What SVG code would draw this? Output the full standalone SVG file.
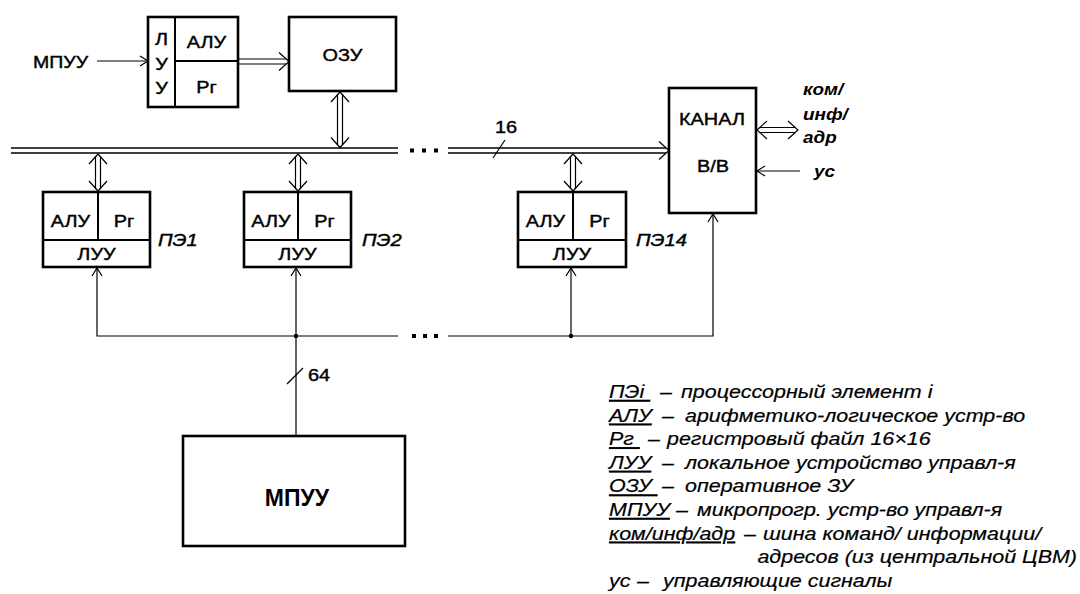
<svg xmlns="http://www.w3.org/2000/svg" width="1080" height="594" viewBox="0 0 1080 594">
<style>
.box{fill:none;stroke:#000;stroke-width:2.6}
.dv{fill:none;stroke:#000;stroke-width:2}
.ln{fill:none;stroke:#000;stroke-width:1.2}
.bus{fill:none;stroke:#000;stroke-width:1.5}
.hd{fill:none;stroke:#000;stroke-width:1.2}
.dot{fill:#000}
text{font-family:"Liberation Sans",Arial,sans-serif;fill:#000;white-space:pre}
.lb{font-size:17px;stroke:#000;stroke-width:0.4}
.it{font-size:16.5px;font-style:italic;stroke:#000;stroke-width:0.4}
.bi{font-size:16px;font-style:italic;font-weight:bold}
.lg{font-size:19px;font-style:italic;stroke:#000;stroke-width:0.2}
.big{font-size:23px;font-weight:bold}
.u{text-decoration:underline}
</style>
<defs>
<path id="sh" d="M-8,-5 L0,0 L-8,5"/>
<path id="dh" d="M-10,-9 L0,0 L-10,9"/>
</defs>
<rect width="1080" height="594" fill="#fff"/>

<g id="mpuu-in">
<text class="lb" transform="translate(33 68) scale(1.15 1)">МПУУ</text>
</g>

<g id="top-pe">
<rect class="box" x="148" y="17" width="90" height="90"/>
<line class="dv" x1="175" y1="17" x2="175" y2="107"/>
<line class="dv" x1="175" y1="61" x2="238" y2="61"/>
<text class="lb" text-anchor="middle" transform="translate(161.5 45) scale(1.17 1)">Л</text>
<text class="lb" text-anchor="middle" transform="translate(161.5 70) scale(1.17 1)">У</text>
<text class="lb" text-anchor="middle" transform="translate(161.5 94) scale(1.17 1)">У</text>
<text class="lb" text-anchor="middle" transform="translate(206.5 48) scale(1.17 1)">АЛУ</text>
<text class="lb" text-anchor="middle" transform="translate(206.5 93) scale(1.17 1)">Рг</text>
</g>

<g id="ozu">
<rect class="box" x="289" y="17" width="107" height="74"/>
<text class="lb" text-anchor="middle" transform="translate(342.5 61) scale(1.17 1)">ОЗУ</text>
</g>

<g id="pe1">
<rect class="box" x="43" y="192" width="107" height="75"/>
<line class="dv" x1="98" y1="192" x2="98" y2="240"/>
<line class="dv" x1="43" y1="240" x2="150" y2="240"/>
<text class="lb" text-anchor="middle" transform="translate(70.5 227) scale(1.17 1)">АЛУ</text>
<text class="lb" text-anchor="middle" transform="translate(124 227) scale(1.17 1)">Рг</text>
<text class="lb" text-anchor="middle" transform="translate(96.5 260) scale(1.17 1)">ЛУУ</text>
<text class="it" transform="translate(158 246) scale(1.22 1)">ПЭ1</text>
</g>

<g id="pe2">
<rect class="box" x="244" y="192" width="107" height="75"/>
<line class="dv" x1="298" y1="192" x2="298" y2="240"/>
<line class="dv" x1="244" y1="240" x2="351" y2="240"/>
<text class="lb" text-anchor="middle" transform="translate(271 227) scale(1.17 1)">АЛУ</text>
<text class="lb" text-anchor="middle" transform="translate(324.5 227) scale(1.17 1)">Рг</text>
<text class="lb" text-anchor="middle" transform="translate(297.5 260) scale(1.17 1)">ЛУУ</text>
<text class="it" transform="translate(362 246) scale(1.22 1)">ПЭ2</text>
</g>

<g id="pe14">
<rect class="box" x="518" y="192" width="108" height="75"/>
<line class="dv" x1="573" y1="192" x2="573" y2="240"/>
<line class="dv" x1="518" y1="240" x2="626" y2="240"/>
<text class="lb" text-anchor="middle" transform="translate(545.5 227) scale(1.17 1)">АЛУ</text>
<text class="lb" text-anchor="middle" transform="translate(599.5 227) scale(1.17 1)">Рг</text>
<text class="lb" text-anchor="middle" transform="translate(572 260) scale(1.17 1)">ЛУУ</text>
<text class="it" transform="translate(636 246) scale(1.22 1)">ПЭ14</text>
</g>

<g id="kanal">
<rect class="box" x="669" y="88" width="87" height="125"/>
<text class="lb" text-anchor="middle" transform="translate(712 125) scale(1.17 1)">КАНАЛ</text>
<text class="lb" text-anchor="middle" transform="translate(713 172) scale(1.17 1)">В/В</text>
</g>

<g id="mpuu">
<rect class="box" x="183" y="436" width="222" height="110"/>
<text class="big" text-anchor="middle" transform="translate(297 506) scale(1 1)">МПУУ</text>
</g>

<g id="connectors">
<line class="ln" x1="97" y1="61" x2="147" y2="61"/>
<use href="#sh" class="hd" transform="translate(148 61)"/>
<line class="ln" x1="238" y1="59" x2="286" y2="59"/>
<line class="ln" x1="238" y1="64" x2="286" y2="64"/>
<use href="#dh" class="hd" transform="translate(289 61.5)"/>
<line class="ln" x1="337.5" y1="94" x2="337.5" y2="145"/>
<line class="ln" x1="342.5" y1="94" x2="342.5" y2="145"/>
<use href="#dh" class="hd" transform="translate(340 92) rotate(-90)"/>
<use href="#dh" class="hd" transform="translate(340 147.5) rotate(90)"/>
<line class="bus" x1="11" y1="148" x2="398" y2="148"/>
<line class="bus" x1="11" y1="153" x2="398" y2="153"/>
<rect class="dot" x="410" y="148.5" width="4" height="4"/>
<rect class="dot" x="422" y="148.5" width="4" height="4"/>
<rect class="dot" x="434" y="148.5" width="4" height="4"/>
<line class="bus" x1="448" y1="148" x2="666" y2="148"/>
<line class="bus" x1="448" y1="153" x2="666" y2="153"/>
<use href="#dh" class="hd" transform="translate(669 150.5)"/>
<line class="ln" x1="493" y1="158" x2="505" y2="140"/>
<text class="lb" transform="translate(495 133) scale(1.17 1)">16</text>
<line class="ln" x1="95.5" y1="156" x2="95.5" y2="189"/>
<line class="ln" x1="100.5" y1="156" x2="100.5" y2="189"/>
<use href="#dh" class="hd" transform="translate(98 154) rotate(-90)"/>
<use href="#dh" class="hd" transform="translate(98 191) rotate(90)"/>
<line class="ln" x1="295.5" y1="156" x2="295.5" y2="189"/>
<line class="ln" x1="300.5" y1="156" x2="300.5" y2="189"/>
<use href="#dh" class="hd" transform="translate(298 154) rotate(-90)"/>
<use href="#dh" class="hd" transform="translate(298 191) rotate(90)"/>
<line class="ln" x1="570.5" y1="156" x2="570.5" y2="189"/>
<line class="ln" x1="575.5" y1="156" x2="575.5" y2="189"/>
<use href="#dh" class="hd" transform="translate(573 154) rotate(-90)"/>
<use href="#dh" class="hd" transform="translate(573 191) rotate(90)"/>
<polyline class="ln" points="97,268 97,336 398,336"/>
<rect class="dot" x="412" y="334" width="4" height="4"/>
<rect class="dot" x="423" y="334" width="4" height="4"/>
<rect class="dot" x="434" y="334" width="4" height="4"/>
<polyline class="ln" points="448,336 713,336 713,214"/>
<line class="ln" x1="296" y1="268" x2="296" y2="436"/>
<line class="ln" x1="571" y1="268" x2="571" y2="336"/>
<use href="#sh" class="hd" transform="translate(97 268) rotate(-90)"/>
<use href="#sh" class="hd" transform="translate(296 268) rotate(-90)"/>
<use href="#sh" class="hd" transform="translate(571 268) rotate(-90)"/>
<use href="#sh" class="hd" transform="translate(713 214) rotate(-90)"/>
<circle class="dot" cx="296" cy="336" r="2.2"/>
<circle class="dot" cx="571" cy="336" r="2.2"/>
<line class="ln" x1="287" y1="384" x2="303" y2="368"/>
<text class="lb" transform="translate(308 381) scale(1.17 1)">64</text>
<line class="ln" x1="759" y1="127.5" x2="795" y2="127.5"/>
<line class="ln" x1="759" y1="132.5" x2="795" y2="132.5"/>
<use href="#dh" class="hd" transform="translate(757 130) rotate(180)"/>
<use href="#dh" class="hd" transform="translate(798 130)"/>
<line class="ln" x1="757" y1="171" x2="800" y2="171"/>
<use href="#sh" class="hd" transform="translate(757 171) rotate(180)"/>
<text class="bi" transform="translate(803 95) scale(1.18 1)">ком/</text>
<text class="bi" transform="translate(803 120) scale(1.18 1)">инф/</text>
<text class="bi" transform="translate(803 143) scale(1.18 1)">адр</text>
<text class="bi" transform="translate(814 177) scale(1.18 1)">ус</text>
</g>

<g id="legend">
<text class="lg" transform="translate(609 398) scale(1.13 1)"><tspan class="u">ПЭі </tspan></text>
<text class="lg" transform="translate(660 398) scale(1.13 1)">–</text>
<text class="lg" transform="translate(681 398) scale(1.13 1)">процессорный элемент і</text>

<text class="lg" transform="translate(609 421.6) scale(1.13 1)"><tspan class="u">АЛУ</tspan></text>
<text class="lg" transform="translate(662 421.6) scale(1.13 1)">–</text>
<text class="lg" transform="translate(685 421.6) scale(1.13 1)">арифметико-логическое устр-во</text>

<text class="lg" transform="translate(609 445.2) scale(1.13 1)"><tspan class="u">Рг </tspan></text>
<text class="lg" transform="translate(648 445.2) scale(1.13 1)">–</text>
<text class="lg" transform="translate(667 445.2) scale(1.13 1)">регистровый файл 16×16</text>

<text class="lg" transform="translate(609 468.8) scale(1.13 1)"><tspan class="u">ЛУУ</tspan></text>
<text class="lg" transform="translate(662 468.8) scale(1.13 1)">–</text>
<text class="lg" transform="translate(685 468.8) scale(1.13 1)">локальное устройство управл-я</text>

<text class="lg" transform="translate(609 492.4) scale(1.13 1)"><tspan class="u">ОЗУ </tspan></text>
<text class="lg" transform="translate(662 492.4) scale(1.13 1)">–</text>
<text class="lg" transform="translate(685 492.4) scale(1.13 1)">оперативное ЗУ</text>

<text class="lg" transform="translate(609 516) scale(1.13 1)"><tspan class="u">МПУУ</tspan></text>
<text class="lg" transform="translate(676 516) scale(1.13 1)">–</text>
<text class="lg" transform="translate(697 516) scale(1.13 1)">микропрогр. устр-во управл-я</text>

<text class="lg" transform="translate(609 539.6) scale(1.13 1)"><tspan class="u">ком/инф/адр</tspan></text>
<text class="lg" transform="translate(744 539.6) scale(1.13 1)">–</text>
<text class="lg" transform="translate(763 539.6) scale(1.13 1)">шина команд/ информации/</text>

<text class="lg" text-anchor="end" transform="translate(1077 563.2) scale(1.13 1)">адресов (из центральной ЦВМ)</text>

<text class="lg" transform="translate(609 586.8) scale(1.13 1)">ус</text>
<text class="lg" transform="translate(637 586.8) scale(1.13 1)">–</text>
<text class="lg" transform="translate(663 586.8) scale(1.13 1)">управляющие сигналы</text>
</g>
</svg>
